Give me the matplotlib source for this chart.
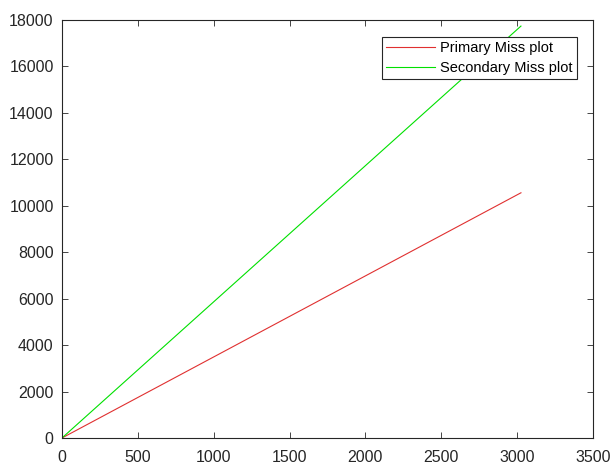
import matplotlib
matplotlib.use('Agg')
import matplotlib.pyplot as plt

plt.rcParams['font.family'] = ['Liberation Sans', 'DejaVu Sans']

# data (straight lines from origin)
x = [0, 3025]
primary = [0, 10560]
secondary = [0, 17740]

fig = plt.figure(figsize=(6.16, 4.66), dpi=100)
ax = fig.add_axes([0.1006, 0.0601, 0.8621, 0.8969])

ax.plot(x, primary, color='#e03030', lw=0.8, label='Primary Miss plot')
ax.plot(x, secondary, color='#00e000', lw=0.8, label='Secondary Miss plot')

ax.set_xlim(0, 3500)
ax.set_ylim(0, 18000)
ax.set_xticks(range(0, 3501, 500))
ax.set_yticks(range(0, 18001, 2000))
ax.tick_params(direction='in', top=True, right=True, labelsize=11.5,
               colors='#262626', length=4, width=0.6)
ax.tick_params(axis='x', pad=9)
ax.tick_params(axis='y', pad=6)
for s in ax.spines.values():
    s.set_linewidth(0.8)
    s.set_color('#262626')

leg = ax.legend(loc='upper right', bbox_to_anchor=(0.969, 0.96), fontsize=10.5,
                fancybox=False, framealpha=1, edgecolor='#262626',
                borderpad=0.3, handlelength=3.3, handletextpad=0.35,
                labelspacing=0.4, borderaxespad=0)
leg.get_frame().set_linewidth(0.8)

fig.savefig('out.png', dpi=100)
